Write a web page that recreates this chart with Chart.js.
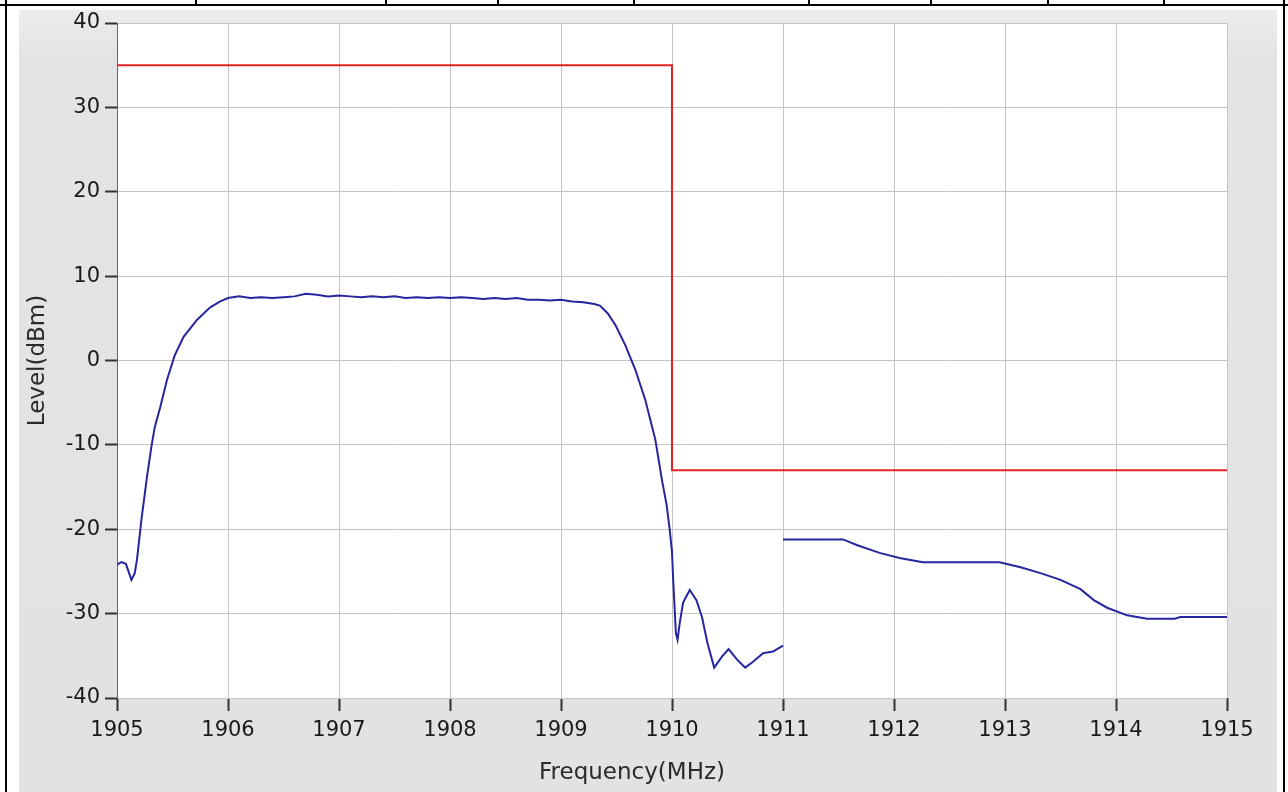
<!DOCTYPE html>
<html>
<head>
<meta charset="utf-8">
<script src="https://cdn.jsdelivr.net/npm/chart.js@4"></script>
<style>
  body { margin: 0; background: #fff; }
  #page { position: relative; width: 1288px; height: 792px; overflow: hidden; background: #fff; }
  .bk { position: absolute; background: #000; }
  #panel { position: absolute; left: 19px; top: 10px; width: 1258px; height: 782px;
           background: linear-gradient(#ececec, #e4e4e4 6%, #e2e2e2); }
  #myChart { position: absolute; left: 0; top: 0; }
</style>
</head>
<body>
<div id="page">
  <div id="panel"></div>
  <div class="bk" style="left:0;top:4px;width:1288px;height:2px"></div>
  <div class="bk" style="left:5px;top:0;width:2px;height:792px"></div>
  <div class="bk" style="left:1283px;top:0;width:2px;height:792px"></div>
  <div class="bk" style="left:195px;top:0;width:2px;height:5px"></div>
  <div class="bk" style="left:385px;top:0;width:2px;height:5px"></div>
  <div class="bk" style="left:497px;top:0;width:2px;height:5px"></div>
  <div class="bk" style="left:633px;top:0;width:2px;height:5px"></div>
  <div class="bk" style="left:808px;top:0;width:2px;height:5px"></div>
  <div class="bk" style="left:930px;top:0;width:2px;height:5px"></div>
  <div class="bk" style="left:1047px;top:0;width:2px;height:5px"></div>
  <div class="bk" style="left:1163px;top:0;width:2px;height:5px"></div>
  <canvas id="myChart" width="1288" height="792"></canvas>
</div>
<script>
// measured trace, 1905 - 1911 MHz
const freqA = [1905.00, 1905.04, 1905.08, 1905.13, 1905.16, 1905.18, 1905.22, 1905.27, 1905.31, 1905.34,
  1905.39, 1905.45, 1905.52, 1905.60, 1905.72, 1905.84, 1905.93, 1906.0, 1906.1, 1906.2,
  1906.3, 1906.4, 1906.5, 1906.6, 1906.7, 1906.8, 1906.9, 1907.0, 1907.1, 1907.2,
  1907.3, 1907.4, 1907.5, 1907.6, 1907.7, 1907.8, 1907.9, 1908.0, 1908.1, 1908.2,
  1908.3, 1908.4, 1908.5, 1908.6, 1908.7, 1908.8, 1908.9, 1909.0, 1909.1, 1909.2,
  1909.30, 1909.35, 1909.42, 1909.49, 1909.58, 1909.67, 1909.76, 1909.85, 1909.91, 1909.95,
  1909.98, 1910.00, 1910.01, 1910.035, 1910.05, 1910.07, 1910.10, 1910.16, 1910.22, 1910.27,
  1910.32, 1910.38, 1910.45, 1910.51, 1910.59, 1910.66, 1910.73, 1910.82, 1910.91, 1911.00];
const levelA = [-24.2, -23.9, -24.1, -26.0, -25.2, -23.6, -18.9, -13.8, -10.2, -7.9,
  -5.5, -2.3, 0.6, 2.8, 4.8, 6.3, 7.0, 7.4, 7.6, 7.4,
  7.5, 7.4, 7.5, 7.6, 7.9, 7.8, 7.6, 7.7, 7.6, 7.5,
  7.6, 7.5, 7.6, 7.4, 7.5, 7.4, 7.5, 7.4, 7.5, 7.4,
  7.3, 7.4, 7.3, 7.4, 7.2, 7.2, 7.1, 7.2, 7.0, 6.9,
  6.7, 6.5, 5.6, 4.2, 1.8, -1.1, -4.7, -9.4, -14.2, -17.0,
  -20.1, -22.7, -25.8, -32.3, -33.1, -31.1, -28.7, -27.2, -28.4, -30.4,
  -33.5, -36.4, -35.1, -34.2, -35.5, -36.4, -35.7, -34.7, -34.5, -33.8];

// measured trace, 1911 - 1915 MHz
const freqB = [1911.00, 1911.54, 1911.67, 1911.87, 1912.05, 1912.26, 1912.95, 1913.14, 1913.32,
  1913.50, 1913.68, 1913.80, 1913.92, 1914.10, 1914.28, 1914.53, 1914.58, 1915.00];
const levelB = [-21.2, -21.2, -21.9, -22.8, -23.4, -23.9, -23.9, -24.5, -25.2,
  -26.0, -27.1, -28.4, -29.3, -30.2, -30.6, -30.6, -30.4, -30.4];

// limit mask
const limitFreq = [1905, 1910, 1910, 1915];
const limitLevel = [35, 35, -13, -13];

const xTicks = ['1905', '1906', '1907', '1908', '1909', '1910', '1911', '1912', '1913', '1914', '1915'];
const yTicks = ['-40', '-30', '-20', '-10', '0', '10', '20', '30', '40'];
const xTitle = 'Frequency(MHz)';
const yTitle = 'Level(dBm)';

function pts(xs, ys) {
  return xs.map((x, i) => ({x: x, y: ys[i]}));
}

const plotBg = {
  id: 'plotBg',
  beforeDraw(chart) {
    const a = chart.chartArea;
    chart.ctx.save();
    chart.ctx.fillStyle = '#ffffff';
    chart.ctx.fillRect(a.left, a.top, a.right - a.left, a.bottom - a.top);
    chart.ctx.restore();
  }
};

const xTitlePlugin = {
  id: 'xTitlePlugin',
  afterDraw(chart) {
    const ctx = chart.ctx;
    ctx.save();
    ctx.font = '23px "DejaVu Sans"';
    ctx.fillStyle = '#2a2a2a';
    ctx.textAlign = 'center';
    ctx.textBaseline = 'middle';
    ctx.fillText(xTitle, 632, 773);
    ctx.restore();
  }
};

const ctx = document.getElementById('myChart');
const myChart = new Chart(ctx, {
  type: 'line',
  data: {
    datasets: [
      { data: pts(freqA, levelA), borderColor: '#2626a0', borderWidth: 2, pointRadius: 0, tension: 0 },
      { data: pts(freqB, levelB), borderColor: '#2626a0', borderWidth: 2, pointRadius: 0, tension: 0 },
      { data: pts(limitFreq, limitLevel), borderColor: '#e02424', borderWidth: 2, pointRadius: 0, tension: 0 }
    ]
  },
  options: {
    responsive: false,
    devicePixelRatio: 1,
    animation: false,
    layout: { padding: { left: 0, top: 23, right: 61, bottom: 0 } },
    plugins: { legend: { display: false }, tooltip: { enabled: false } },
    scales: {
      x: {
        type: 'linear',
        min: 1905,
        max: 1915,
        afterFit: s => { s.height = 94; },
        afterBuildTicks: s => { s.ticks = xTicks.map(t => ({value: Number(t)})); },
        ticks: {
          autoSkip: false,
          maxRotation: 0,
          padding: 7,
          color: '#1a1a1a',
          font: { family: 'DejaVu Sans', size: 21 },
          callback: v => String(v)
        },
        grid: { color: '#c4c4c4', lineWidth: 1, tickColor: '#333', tickWidth: 2, tickLength: 13 },
        border: { display: false }
      },
      y: {
        min: -40,
        max: 40,
        afterFit: s => { s.width = 117; },
        afterBuildTicks: s => { s.ticks = yTicks.map(t => ({value: Number(t)})); },
        ticks: {
          padding: 5,
          color: '#1a1a1a',
          font: { family: 'DejaVu Sans', size: 21 },
          callback: v => String(v)
        },
        title: {
          display: true,
          text: yTitle,
          color: '#2a2a2a',
          font: { family: 'DejaVu Sans', size: 23 },
          padding: { top: 24 }
        },
        grid: { color: '#c4c4c4', lineWidth: 1, tickColor: '#333', tickWidth: 2, tickLength: 12 },
        border: { display: true, color: '#666', width: 1 }
      }
    }
  },
  plugins: [plotBg, xTitlePlugin]
});
</script>
</body>
</html>
